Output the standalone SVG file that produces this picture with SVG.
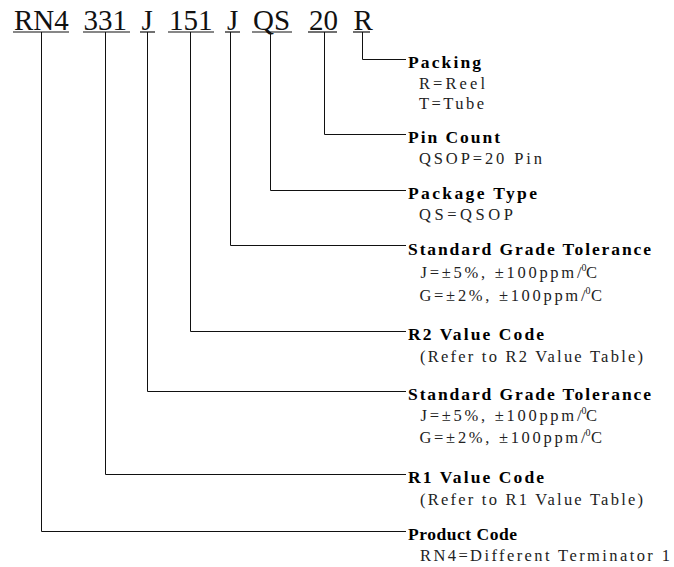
<svg xmlns="http://www.w3.org/2000/svg" width="674" height="567" viewBox="0 0 674 567">
<style>
text{font-family:"Liberation Serif","Times New Roman",serif;}
.code{font-size:29px;fill:#111;}
.title{font-size:17.5px;font-weight:bold;fill:#000;}
.sub{font-size:16.5px;fill:#222;}
.sup{font-size:10px;fill:#222;}
.ul{stroke:#111;stroke-width:1.2;fill:none;}
.conn{stroke:#111;stroke-width:1;fill:none;}
</style>
<rect width="674" height="567" fill="#fff"/>

<g id="code-rn4">
<text class="code" x="14" y="29.5">RN4</text>
<line class="ul" x1="13" y1="32" x2="69" y2="32"/>
</g>
<g id="code-331">
<text class="code" x="83.5" y="29.5">331</text>
<line class="ul" x1="83" y1="32" x2="130" y2="32"/>
</g>
<g id="code-j1">
<text class="code" x="141.5" y="29.5">J</text>
<line class="ul" x1="140" y1="32" x2="155" y2="32"/>
</g>
<g id="code-151">
<text class="code" x="169" y="29.5">151</text>
<line class="ul" x1="168" y1="32" x2="214" y2="32"/>
</g>
<g id="code-j2">
<text class="code" x="227" y="29.5">J</text>
<line class="ul" x1="225" y1="32" x2="240" y2="32"/>
</g>
<g id="code-qs">
<text class="code" x="253" y="29.5">QS</text>
<line class="ul" x1="252" y1="32" x2="292" y2="32"/>
</g>
<g id="code-20">
<text class="code" x="309" y="29.5">20</text>
<line class="ul" x1="308" y1="32" x2="337" y2="32"/>
</g>
<g id="code-r">
<text class="code" x="353.5" y="29.5">R</text>
<line class="ul" x1="353" y1="32" x2="370" y2="32"/>
</g>

<g id="connectors">
<polyline class="conn" points="362.5,32 362.5,59.5 406,59.5"/>
<polyline class="conn" points="324.5,32 324.5,134.5 406,134.5"/>
<polyline class="conn" points="270.5,32 270.5,190.5 406,190.5"/>
<polyline class="conn" points="230.5,32 230.5,245.5 406,245.5"/>
<polyline class="conn" points="190.5,32 190.5,331.5 406,331.5"/>
<polyline class="conn" points="147.5,32 147.5,391.5 406,391.5"/>
<polyline class="conn" points="105.5,32 105.5,474.5 406,474.5"/>
<polyline class="conn" points="41.5,32 41.5,531.5 406,531.5"/>
</g>

<g id="label-packing">
<text class="title" x="408" y="67.5" textLength="73" lengthAdjust="spacing">Packing</text>
<text class="sub" x="419" y="89" textLength="66" lengthAdjust="spacing">R=Reel</text>
<text class="sub" x="419" y="109" textLength="65" lengthAdjust="spacing">T=Tube</text>
</g>
<g id="label-pin-count">
<text class="title" x="408" y="142.5" textLength="92" lengthAdjust="spacing">Pin Count</text>
<text class="sub" x="419" y="164" textLength="123" lengthAdjust="spacing">QSOP=20 Pin</text>
</g>
<g id="label-package-type">
<text class="title" x="408" y="198.5" textLength="129" lengthAdjust="spacing">Package Type</text>
<text class="sub" x="419" y="220" textLength="94" lengthAdjust="spacing">QS=QSOP</text>
</g>
<g id="label-tolerance-2">
<text class="title" x="408" y="254.5" textLength="243" lengthAdjust="spacing">Standard Grade Tolerance</text>
<text class="sub" x="420.5" y="278" textLength="161" lengthAdjust="spacing">J=±5%, ±100ppm/</text>
<text class="sup" x="581.5" y="271">0</text>
<text class="sub" x="586" y="278">C</text>
<text class="sub" x="419.5" y="301" textLength="166" lengthAdjust="spacing">G=±2%, ±100ppm/</text>
<text class="sup" x="585.5" y="294">0</text>
<text class="sub" x="591" y="301">C</text>
</g>
<g id="label-r2">
<text class="title" x="408" y="339.5" textLength="136" lengthAdjust="spacing">R2 Value Code</text>
<text class="sub" x="420" y="362" textLength="223" lengthAdjust="spacing">(Refer to R2 Value Table)</text>
</g>
<g id="label-tolerance-1">
<text class="title" x="408" y="399.5" textLength="243" lengthAdjust="spacing">Standard Grade Tolerance</text>
<text class="sub" x="420.5" y="421" textLength="161" lengthAdjust="spacing">J=±5%, ±100ppm/</text>
<text class="sup" x="581.5" y="414">0</text>
<text class="sub" x="586" y="421">C</text>
<text class="sub" x="419.5" y="443" textLength="166" lengthAdjust="spacing">G=±2%, ±100ppm/</text>
<text class="sup" x="585.5" y="436">0</text>
<text class="sub" x="591" y="443">C</text>
</g>
<g id="label-r1">
<text class="title" x="408" y="482.5" textLength="136" lengthAdjust="spacing">R1 Value Code</text>
<text class="sub" x="420" y="505" textLength="223" lengthAdjust="spacing">(Refer to R1 Value Table)</text>
</g>
<g id="label-product">
<text class="title" x="408" y="539.5" textLength="109" lengthAdjust="spacing">Product Code</text>
<text class="sub" x="420" y="561" textLength="250" lengthAdjust="spacing">RN4=Different Terminator 1</text>
</g>
</svg>
